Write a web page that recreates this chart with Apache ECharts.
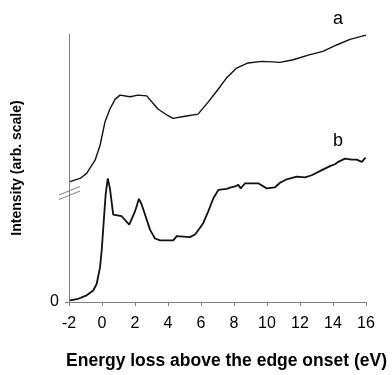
<!DOCTYPE html>
<html><head><meta charset="utf-8">
<script src="https://cdn.jsdelivr.net/npm/echarts@6/dist/echarts.min.js"></script>
<style>html,body{margin:0;padding:0;background:#fff}#c{width:392px;height:375px}</style>
</head><body><div id="c"></div>
<script>
var xTicks = [-2, 0, 2, 4, 6, 8, 10, 12, 14, 16];
var energyA = [-1.94,-1.33,-0.93,-0.42,-0.12,0.18,0.48,0.79,1.09,1.70,2.18,2.71,3.39,4.00,4.30,5.03,5.82,6.42,7.03,7.56,8.16,8.85,9.68,10.36,10.79,11.58,12.61,13.39,14.22,15.03,16.0];
var intensityA = [44.9,46.1,48.0,52.9,58.4,67.2,72.0,75.6,77.2,76.6,77.2,76.9,72.0,69.5,68.5,69.3,70.1,74.5,79.3,83.7,87.3,89.2,89.8,89.6,89.4,90.4,92.3,93.5,95.9,98.0,99.6];
var energyB = [-1.94,-1.44,-0.93,-0.53,-0.32,-0.12,-0.02,0.12,0.22,0.35,0.48,0.68,1.19,1.65,2.0,2.24,2.41,2.91,3.21,3.52,4.32,4.53,4.93,5.33,5.64,5.94,6.14,6.44,6.75,7.05,7.56,7.76,8.06,8.26,8.41,8.67,8.97,9.47,9.58,9.98,10.48,10.79,11.19,11.80,12.30,12.71,13.32,13.82,14.12,14.32,14.73,15.13,15.44,15.74,15.98];
var intensityB = [0.6,1.2,2.5,4.3,6.8,12.9,19.1,31.4,40.0,46.1,42.4,32.6,32.0,28.9,33.8,38.5,36.3,27.0,23.7,23.0,23.0,24.6,24.4,24.2,25.2,27.7,29.5,33.8,38.7,41.8,42.2,42.7,43.1,43.7,42.4,44.3,44.3,44.3,43.7,42.4,42.8,44.5,45.8,46.8,46.5,47.3,49.2,50.7,51.4,52.3,53.5,53.1,53.1,52.3,53.9];
var seriesLabels = ['a', 'b'];

function pairs(xs, ys) { return xs.map(function (x, i) { return [x, ys[i]]; }); }

var chart = echarts.init(document.getElementById('c'), null, {renderer: 'canvas'});
var FONT = 'Liberation Sans, Arial, sans-serif';
chart.setOption({
  animation: false,
  grid: {left: 69, right: 26, top: 34, bottom: 70},
  xAxis: {
    type: 'value', min: -2, max: 16, interval: 2,
    name: 'Energy loss above the edge onset (eV)', nameLocation: 'middle', nameGap: 50,
    nameTextStyle: {fontFamily: FONT, fontSize: 17.5, fontWeight: 'bold', color: '#000', padding: [0, 0, 0, 18]},
    axisLine: {show: true, lineStyle: {color: '#808080', width: 1}},
    axisTick: {show: true, length: 4, lineStyle: {color: '#808080'}},
    axisLabel: {fontFamily: FONT, fontSize: 16, color: '#000', margin: 14},
    splitLine: {show: false}
  },
  yAxis: {
    type: 'value', min: 0, max: 100, interval: 100,
    name: 'Intensity (arb. scale)', nameLocation: 'middle', nameGap: 44.5,
    nameTextStyle: {fontFamily: FONT, fontSize: 14, fontWeight: 'bold', color: '#000'},
    axisLine: {show: true, onZero: false, lineStyle: {color: '#808080', width: 1}},
    axisTick: {show: true, length: 4, customValues: [0], lineStyle: {color: '#808080'}},
    axisLabel: {fontFamily: FONT, fontSize: 16, color: '#000', margin: 10,
      formatter: function (v) { return v === 0 ? '0' : ''; }},
    splitLine: {show: false}
  },
  series: [
    {type: 'line', name: seriesLabels[0], data: pairs(energyA, intensityA), showSymbol: false,
     lineStyle: {color: '#111', width: 1.4}},
    {type: 'line', name: seriesLabels[1], data: pairs(energyB, intensityB), showSymbol: false,
     lineStyle: {color: '#111', width: 1.8}}
  ],
  graphic: [
    {type: 'text', left: 333, top: 10, style: {text: seriesLabels[0], font: '18px ' + FONT, fill: '#000'}},
    {type: 'text', left: 333, top: 132, style: {text: seriesLabels[1], font: '18px ' + FONT, fill: '#000'}},
    {type: 'line', shape: {x1: 59, y1: 195, x2: 80, y2: 186.5}, style: {stroke: '#808080', lineWidth: 1}},
    {type: 'line', shape: {x1: 59, y1: 199.5, x2: 80, y2: 191}, style: {stroke: '#808080', lineWidth: 1}}
  ]
});
</script></body></html>
